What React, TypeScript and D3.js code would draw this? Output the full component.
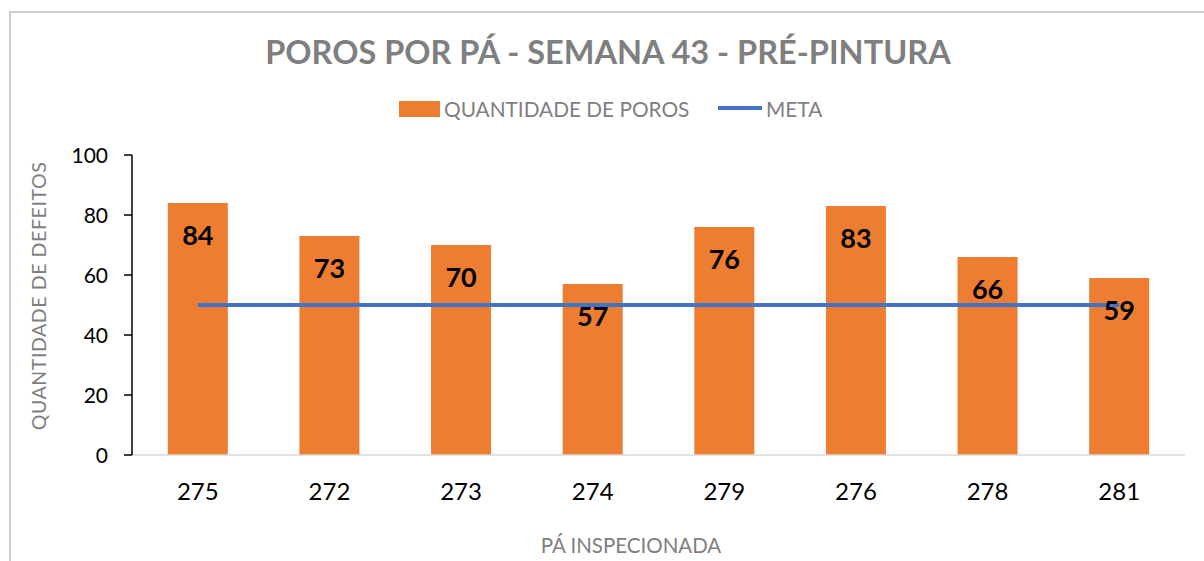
import * as d3 from "d3";

const categories = ["275", "272", "273", "274", "279", "276", "278", "281"];
const poros = [84, 73, 70, 57, 76, 83, 66, 59];
const meta = [50, 50, 50, 50, 50, 50, 50, 50];
const yTicks = [0, 20, 40, 60, 80, 100];

const width = 1204;
const height = 561;
const font = "Lato, 'Open Sans', sans-serif";
const gray = "#7f7f7f";

export default function App() {
  const left = 132;
  const right = 1185;
  const top = 155;
  const bottom = 455;

  const x = d3.scaleBand<string>().domain(categories).range([left, right]).paddingInner(0.544).paddingOuter(0.272);
  const y = d3.scaleLinear().domain([0, 100]).range([bottom, top]);

  const line = d3
    .line<number>()
    .x((_, i) => (x(categories[i]) ?? 0) + x.bandwidth() / 2)
    .y((d) => y(d));

  return (
    <svg
      width={width}
      height={height}
      style={{ position: "absolute", left: 0, top: 0, background: "#fff" }}
      fontFamily={font}
    >
      <rect x={10} y={12} width={1300} height={700} fill="#fff" stroke="#bfbfbf" strokeWidth={1.5} />

      <text x={608} y={64} textAnchor="middle" fontSize={32.5} fontWeight="bold" fill={gray}>
        POROS POR PÁ - SEMANA 43 - PRÉ-PINTURA
      </text>

      {/* legend */}
      <rect x={399} y={101} width={41} height={16} fill="#ed7d31" />
      <text x={444} y={117} fontSize={20.8} fill={gray}>
        QUANTIDADE DE POROS
      </text>
      <line x1={718} x2={762} y1={108} y2={108} stroke="#4472c4" strokeWidth={4} />
      <text x={766} y={117} fontSize={20.8} fill={gray}>
        META
      </text>

      {/* bars */}
      {poros.map((v, i) => (
        <rect
          key={categories[i]}
          x={x(categories[i])}
          y={y(v)}
          width={x.bandwidth()}
          height={y(0) - y(v)}
          fill="#ed7d31"
        />
      ))}

      {/* x baseline */}
      <line x1={left} x2={right} y1={bottom} y2={bottom} stroke="#d9d9d9" strokeWidth={1.5} />

      {/* meta line */}
      <path d={line(meta) ?? ""} fill="none" stroke="#4472c4" strokeWidth={4} />

      {/* data labels */}
      {poros.map((v, i) => (
        <text
          key={"l" + categories[i]}
          x={(x(categories[i]) ?? 0) + x.bandwidth() / 2}
          y={y(v) + 42}
          textAnchor="middle"
          fontSize={27}
          fontWeight="bold"
          fill="#000"
        >
          {v}
        </text>
      ))}

      {/* y axis */}
      <line x1={left} x2={left} y1={top} y2={bottom} stroke="#000" strokeWidth={1.5} />
      {yTicks.map((t) => (
        <g key={t}>
          <line x1={left - 8} x2={left} y1={y(t)} y2={y(t)} stroke="#000" strokeWidth={1.5} />
          <text x={108} y={y(t) + 7.5} textAnchor="end" fontSize={21} fill="#000">
            {t}
          </text>
        </g>
      ))}

      {/* x tick labels */}
      {categories.map((c) => (
        <text key={"x" + c} x={(x(c) ?? 0) + x.bandwidth() / 2} y={500} textAnchor="middle" fontSize={24} fill="#000">
          {c}
        </text>
      ))}

      <text
        transform={`translate(46, 296) rotate(-90)`}
        textAnchor="middle"
        fontSize={19.5}
        fill={gray}
        letterSpacing={0.6}
      >
        QUANTIDADE DE DEFEITOS
      </text>
      <text x={631} y={553} textAnchor="middle" fontSize={20.5} fill={gray}>
        PÁ INSPECIONADA
      </text>
    </svg>
  );
}
